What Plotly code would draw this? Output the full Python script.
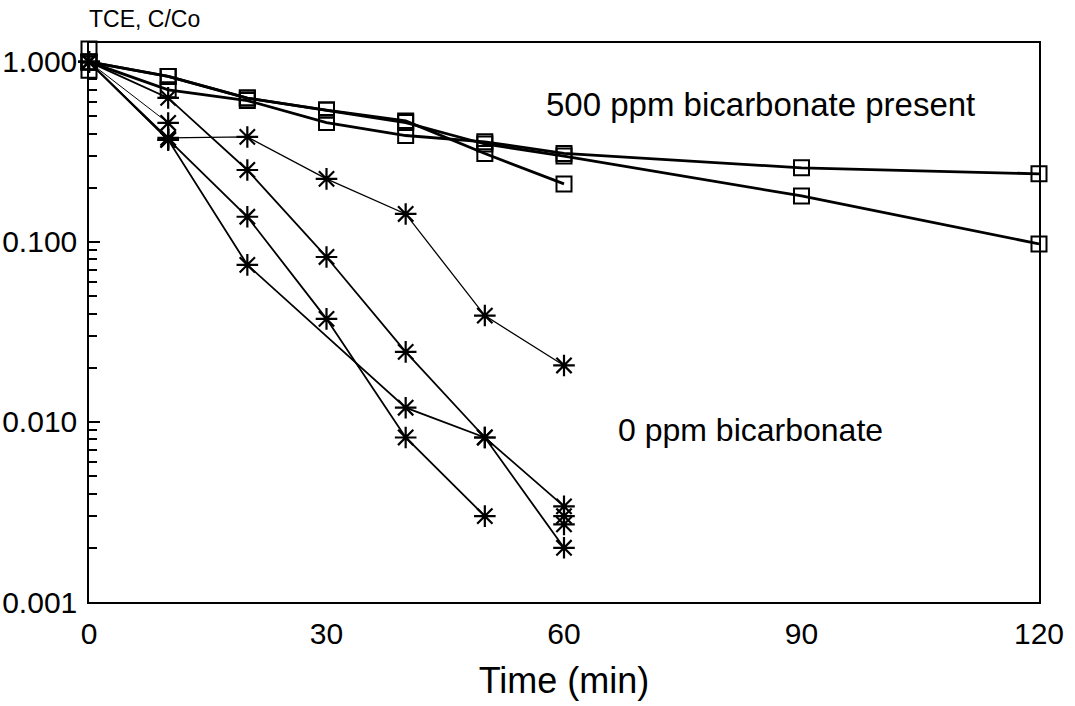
import plotly.graph_objects as go

# ---- data ----
# 500 ppm bicarbonate present (open squares)
sq1_t = [0, 10, 20, 30, 40, 50, 60]
sq1_v = [1.0, 0.83, 0.63, 0.54, 0.47, 0.31, 0.21]
sq2_t = [0, 10, 20, 30, 40, 50, 60, 90, 120]
sq2_v = [1.0, 0.70, 0.61, 0.46, 0.39, 0.36, 0.31, 0.258, 0.239]
sq3_t = [0, 10, 20, 30, 40, 50, 60, 90, 120]
sq3_v = [1.0, 0.83, 0.63, 0.54, 0.46, 0.35, 0.30, 0.18, 0.0975]
sq0_t = [0, 0]
sq0_v = [1.18, 0.90]

# 0 ppm bicarbonate (asterisks)
st1_t = [0, 10, 20, 30, 40, 50, 60]
st1_v = [1.0, 0.378, 0.383, 0.224, 0.143, 0.039, 0.0206]
st2_t = [0, 10, 20, 30, 40, 50, 60]
st2_v = [1.0, 0.631, 0.251, 0.0825, 0.0245, 0.0082, 0.0020]
st3_t = [0, 10, 20, 40, 50, 60]
st3_v = [1.0, 0.369, 0.0746, 0.0120, 0.0082, 0.0034]
st4_t = [0, 10, 20, 30, 40, 50]
st4_v = [1.0, 0.369, 0.138, 0.0374, 0.0082, 0.0030]
st5_t = [0, 10]
st5_v = [1.0, 0.458]
st6_t = [60, 60]
st6_v = [0.0030, 0.0027]

x_ticks = [0, 30, 60, 90, 120]
y_ticks = [0.001, 0.01, 0.1, 1.0]
y_ticktext = ["0.001", "0.010", "0.100", "1.000"]
y_minor = [k * 10 ** e for e in (-3, -2, -1) for k in range(2, 10)]

FONT = "Liberation Sans, Arial, Helvetica, sans-serif"

fig = go.Figure()

def sq_trace(t, v, lw=2.8, mode="lines+markers"):
    fig.add_trace(go.Scatter(
        x=t, y=v, mode=mode,
        line=dict(color="black", width=lw),
        marker=dict(symbol="square-open", size=15, color="black",
                    line=dict(width=2, color="black")),
        showlegend=False, cliponaxis=False))

def st_trace(t, v, lw=1.8, mode="lines+markers"):
    fig.add_trace(go.Scatter(
        x=t, y=v, mode=mode,
        line=dict(color="black", width=lw),
        marker=dict(symbol="asterisk-open", size=18, color="black",
                    line=dict(width=2.2, color="black")),
        showlegend=False, cliponaxis=False))

sq_trace(sq1_t, sq1_v)
sq_trace(sq2_t, sq2_v)
sq_trace(sq3_t, sq3_v)
sq_trace(sq0_t, sq0_v, mode="markers")

st_trace(st1_t, st1_v, lw=1.3)
st_trace(st2_t, st2_v)
st_trace(st3_t, st3_v)
st_trace(st4_t, st4_v)
st_trace(st5_t, st5_v, lw=1.0)
st_trace(st6_t, st6_v, mode="markers")

fig.update_xaxes(
    range=[0, 120], tickvals=x_ticks, ticks="", showgrid=False, zeroline=False,
    showline=True, linecolor="black", linewidth=1.5, mirror=True, automargin=False,
    tickfont=dict(family=FONT, size=30, color="black"), ticklabelstandoff=4,
    title=dict(text="Time (min)", font=dict(family=FONT, size=36, color="black"),
               standoff=19),
)
fig.update_yaxes(
    type="log", range=[-3, 0.105], tickvals=y_ticks, ticktext=y_ticktext,
    ticks="inside", ticklen=11, tickwidth=1.5, tickcolor="black",
    minor=dict(tickvals=y_minor, ticks="inside", ticklen=8, tickwidth=1.5,
               tickcolor="black", showgrid=False),
    showgrid=False, zeroline=False, automargin=False,
    showline=True, linecolor="black", linewidth=1.5, mirror=True,
    tickfont=dict(family=FONT, size=30, color="black"), ticklabelstandoff=4,
)

fig.add_annotation(text="TCE, C/Co", xref="paper", yref="paper", x=0, y=1,
                   xanchor="left", yanchor="bottom", yshift=9, xshift=-2,
                   showarrow=False,
                   font=dict(family=FONT, size=23, color="black"))
fig.add_annotation(text="500 ppm bicarbonate present", x=84.8, y=-0.239,
                   xref="x", yref="y", showarrow=False,
                   font=dict(family=FONT, size=33, color="black"))
fig.add_annotation(text="0 ppm bicarbonate", x=83.5, y=-2.044,
                   xref="x", yref="y", showarrow=False,
                   font=dict(family=FONT, size=32, color="black"))

fig.update_layout(
    width=1075, height=706,
    margin=dict(l=89, r=36, t=43, b=104),
    paper_bgcolor="white", plot_bgcolor="white",
    font=dict(family=FONT, color="black"),
)

fig.write_html("out.html")
